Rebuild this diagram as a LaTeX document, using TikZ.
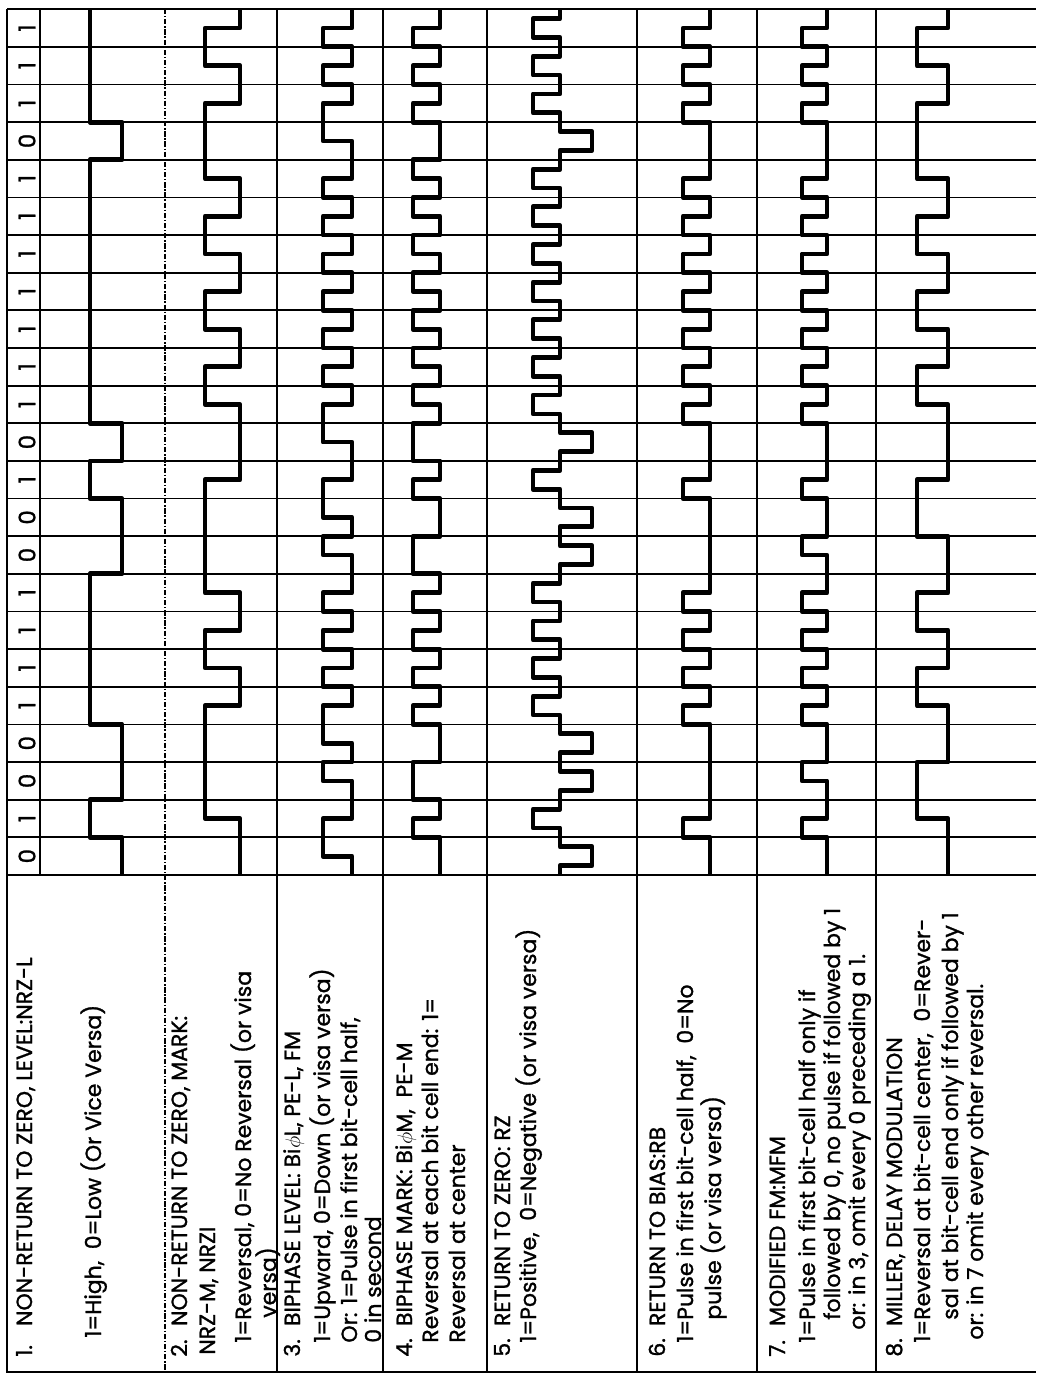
\documentclass[tikz,border=0pt]{standalone}
\usepackage{fontspec}
\setmainfont{Poppins}
\newfontfamily\legendfont{Poppins}[FakeBold=1.2]
\usepackage{tikz}
\tikzset{
    gridline/.style={line width=1.0pt},
    divider/.style={line width=0.8pt},
    wave/.style={line width=2.7pt, line join=round}
}
\newcommand{\itemno}[1]{\makebox[1.4em][l]{#1.}}

\begin{document}
\begin{tikzpicture}[
        x=0.02cm, y=-0.02cm,
        % Define styles
        lbl/.style={rotate=90, anchor=base west, inner sep=0pt, font=\legendfont\fontsize{12.5}{15}\selectfont},
        bit/.style={rotate=90, inner sep=0pt, font=\legendfont\fontsize{13}{15}\selectfont}
    ]
        \useasboundingbox (0,0) rectangle (1036,1374);

        % --- Frame and column rules ---
        \draw [gridline] (7,9) -- (7,1372) -- (1036,1372);
        \draw [divider] (40,9) -- (40,875);
        \draw [divider, densely dash dot] (165,9) -- (165,1372);
        \draw [divider] (277,9) -- (277,1372);
        \draw [divider] (383,9) -- (383,1372);
        \draw [divider] (487,9) -- (487,1372);
        \draw [divider] (637,9) -- (637,1372);
        \draw [divider] (757,9) -- (757,1372);
        \draw [divider] (876,9) -- (876,1372);

        % --- Bit cells and waveforms (time runs upward) ---
        \begin{scope}[shift={(0,875)}, y=0.753cm]
            \foreach \k in {0,...,23} \draw [gridline] (7,\k) -- (1036,\k);
            \foreach \b [count=\k from 0] in {0,1,0,0,1,1,1,1,0,0,1,0,1,1,1,1,1,1,1,0,1,1,1}
                \node (bit\k) [bit] at (27,\k+0.5) {\b};

            % 1. NRZ-L
            \draw [wave] (122,0) |- (90,1) |- (122,2) |- (90,4) |- (122,8) |- (90,10) |- (122,11)
                |- (90,12) |- (122,19) |- (90,20) -- (90,23);
            % 2. NRZ-M
            \draw [wave] (240,0) |- (205,1.5) |- (240,4.5) |- (205,5.5) |- (240,6.5) |- (205,7.5)
                |- (240,10.5) |- (205,12.5) |- (240,13.5) |- (205,14.5) |- (240,15.5) |- (205,16.5)
                |- (240,17.5) |- (205,18.5) |- (240,20.5) |- (205,21.5) |- (240,22.5) -- (240,23);
            % 3. Biphase level
            \draw [wave] (352,0) |- (323,0.5) |- (352,1.5) |- (323,2.5) |- (352,3) |- (323,3.5)
                |- (352,4.5) |- (323,5) |- (352,5.5) |- (323,6) |- (352,6.5) |- (323,7) |- (352,7.5)
                |- (323,8.5) |- (352,9) |- (323,9.5) |- (352,10.5) |- (323,11.5) |- (352,12.5)
                |- (323,13) |- (352,13.5) |- (323,14) |- (352,14.5) |- (323,15) |- (352,15.5)
                |- (323,16) |- (352,16.5) |- (323,17) |- (352,17.5) |- (323,18) |- (352,18.5)
                |- (323,19.5) |- (352,20.5) |- (323,21) |- (352,21.5) |- (323,22) |- (352,22.5) -- (352,23);
            % 4. Biphase mark
            \draw [wave] (440,0) |- (413,1) |- (440,1.5) |- (413,2) |- (440,3) |- (413,4) |- (440,4.5)
                |- (413,5) |- (440,5.5) |- (413,6) |- (440,6.5) |- (413,7) |- (440,7.5) |- (413,8)
                |- (440,9) |- (413,10) |- (440,10.5) |- (413,11) |- (440,12) |- (413,12.5) |- (440,13)
                |- (413,13.5) |- (440,14) |- (413,14.5) |- (440,15) |- (413,15.5) |- (440,16)
                |- (413,16.5) |- (440,17) |- (413,17.5) |- (440,18) |- (413,18.5) |- (440,19)
                |- (413,20) |- (440,20.5) |- (413,21) |- (440,21.5) |- (413,22) |- (440,22.5) -- (440,23);
            % 5. RZ, three levels
            \draw [wave] (560,0) |- (592,0.25) |- (560,0.75) |- (533,1.25) |- (560,1.75) |- (592,2.25)
                |- (560,2.75) |- (592,3.25) |- (560,3.75) |- (533,4.25) |- (560,4.75) |- (533,5.25)
                |- (560,5.75) |- (533,6.25) |- (560,6.75) |- (533,7.25) |- (560,7.75) |- (592,8.25)
                |- (560,8.75) |- (592,9.25) |- (560,9.75) |- (533,10.25) |- (560,10.75) |- (592,11.25)
                |- (560,11.75) |- (533,12.25) |- (560,12.75) |- (533,13.25) |- (560,13.75) |- (533,14.25)
                |- (560,14.75) |- (533,15.25) |- (560,15.75) |- (533,16.25) |- (560,16.75) |- (533,17.25)
                |- (560,17.75) |- (533,18.25) |- (560,18.75) |- (592,19.25) |- (560,19.75) |- (533,20.25)
                |- (560,20.75) |- (533,21.25) |- (560,21.75) |- (533,22.25) |- (560,22.75) -- (560,23);
            % 6. RB
            \draw [wave] (710,0) |- (683,1) |- (710,1.5) |- (683,4) |- (710,4.5) |- (683,5) |- (710,5.5)
                |- (683,6) |- (710,6.5) |- (683,7) |- (710,7.5) |- (683,10) |- (710,10.5) |- (683,12)
                |- (710,12.5) |- (683,13) |- (710,13.5) |- (683,14) |- (710,14.5) |- (683,15) |- (710,15.5)
                |- (683,16) |- (710,16.5) |- (683,17) |- (710,17.5) |- (683,18) |- (710,18.5) |- (683,20)
                |- (710,20.5) |- (683,21) |- (710,21.5) |- (683,22) |- (710,22.5) -- (710,23);
            % 7. MFM
            \draw [wave] (827,0) |- (802,1) |- (827,1.5) |- (802,2.5) |- (827,3) |- (802,4) |- (827,4.5)
                |- (802,5) |- (827,5.5) |- (802,6) |- (827,6.5) |- (802,7) |- (827,7.5) |- (802,8.5)
                |- (827,9) |- (802,10) |- (827,10.5) |- (802,12) |- (827,12.5) |- (802,13) |- (827,13.5)
                |- (802,14) |- (827,14.5) |- (802,15) |- (827,15.5) |- (802,16) |- (827,16.5) |- (802,17)
                |- (827,17.5) |- (802,18) |- (827,18.5) |- (802,20) |- (827,20.5) |- (802,21) |- (827,21.5)
                |- (802,22) |- (827,22.5) -- (827,23);
            % 8. Miller
            \draw [wave] (948,0) |- (917,1.5) |- (948,3) |- (917,4.5) |- (948,5.5) |- (917,6.5) |- (948,7.5)
                |- (917,9) |- (948,10.5) |- (917,12.5) |- (948,13.5) |- (917,14.5) |- (948,15.5)
                |- (917,16.5) |- (948,17.5) |- (917,18.5) |- (948,20.5) |- (917,21.5) |- (948,22.5) -- (948,23);
        \end{scope}

        % --- Legend (rotated text) ---
        \node (nrzl_title) [lbl] at (32,1357) {\itemno{1}NON-RETURN TO ZERO, LEVEL:NRZ-L};
        \node (nrzl_def) [lbl] at (101,1338) {1=High, \ 0=Low (Or Vice Versa)};

        \node (nrzm_title) [lbl] at (187,1357) {\itemno{2}NON-RETURN TO ZERO, MARK:};
        \node (nrzm_alias) [lbl] at (215,1355) {NRZ-M, NRZI};
        \node (nrzm_def) [lbl] at (251,1343) {1=Reversal, 0=No Reversal (or visa};
        \node (nrzm_more) [lbl] at (276,1318) {versa)};

        \node (bpl_title) [lbl] at (300,1357) {\itemno{3}BIPHASE LEVEL: Bi$\phi$L, PE-L, FM};
        \node (bpl_def) [lbl] at (330,1343) {1=Upward, 0=Down (or visa versa)};
        \node (bpl_alt) [lbl] at (357,1343) {Or: 1=Pulse in first bit-cell half,};
        \node (bpl_more) [lbl] at (381,1343) {0 in second};

        \node (bpm_title) [lbl] at (412,1357) {\itemno{4}BIPHASE MARK: Bi$\phi$M, \ PE-M};
        \node (bpm_def) [lbl] at (438,1343) {Reversal at each bit cell end: 1=};
        \node (bpm_more) [lbl] at (465,1343) {Reversal at center};

        \node (rz_title) [lbl] at (510,1357) {\itemno{5}RETURN TO ZERO: RZ};
        \node (rz_def) [lbl] at (536,1343) {1=Positive, \ 0=Negative (or visa versa)};

        \node (rb_title) [lbl] at (665,1357) {\itemno{6}RETURN TO BIAS:RB};
        \node (rb_def) [lbl] at (693,1343) {1=Pulse in first bit-cell half, \ 0=No};
        \node (rb_more) [lbl] at (721,1320) {pulse (or visa versa)};

        \node (mfm_title) [lbl] at (785,1357) {\itemno{7}MODIFIED FM:MFM};
        \node (mfm_def) [lbl] at (815,1343) {1=Pulse in first bit-cell half only if};
        \node (mfm_cond) [lbl] at (840,1320) {followed by 0, no pulse if followed by 1};
        \node (mfm_alt) [lbl] at (865,1330) {or: in 3, omit every 0 preceding a 1.};

        \node (mil_title) [lbl] at (902,1357) {\itemno{8}MILLER, DELAY MODULATION};
        \node (mil_def) [lbl] at (930,1343) {1=Reversal at bit-cell center, \ 0=Rever-};
        \node (mil_cond) [lbl] at (958,1320) {sal at bit-cell end only if followed by 1};
        \node (mil_alt) [lbl] at (983,1340) {or: in 7 omit every other reversal.};

    \end{tikzpicture}
\end{document}
